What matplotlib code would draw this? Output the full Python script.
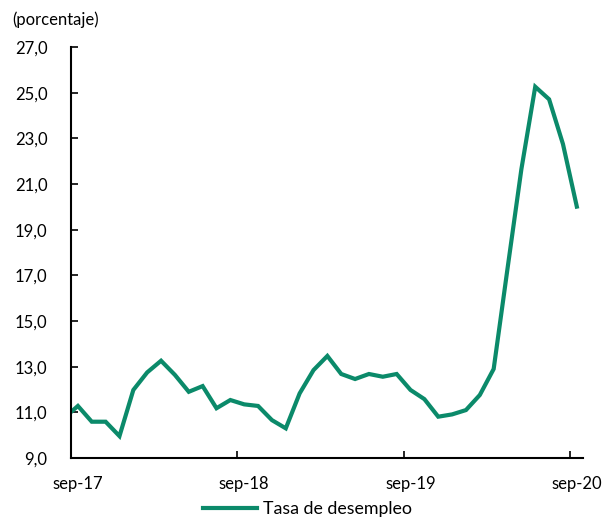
import matplotlib
matplotlib.use("Agg")
import matplotlib.pyplot as plt
from matplotlib.ticker import FixedLocator, FuncFormatter

# Monthly unemployment rate, aug-17 .. sep-20 (first month sits just left of the axis)
months = ["ago-17", "sep-17", "oct-17", "nov-17", "dic-17", "ene-18", "feb-18", "mar-18",
          "abr-18", "may-18", "jun-18", "jul-18", "ago-18", "sep-18", "oct-18", "nov-18",
          "dic-18", "ene-19", "feb-19", "mar-19", "abr-19", "may-19", "jun-19", "jul-19",
          "ago-19", "sep-19", "oct-19", "nov-19", "dic-19", "ene-20", "feb-20", "mar-20",
          "abr-20", "may-20", "jun-20", "jul-20", "ago-20", "sep-20"]
tasa = [10.75, 11.28, 10.59, 10.59, 9.96, 11.98, 12.75, 13.26,
        12.64, 11.90, 12.15, 11.18, 11.54, 11.35, 11.28, 10.66,
        10.30, 11.83, 12.85, 13.47, 12.68, 12.46, 12.68, 12.56,
        12.68, 11.98, 11.58, 10.81, 10.91, 11.10, 11.76, 12.90,
        17.30, 21.65, 25.26, 24.71, 22.75, 20.01]

tick_labels = ["sep-17", "sep-18", "sep-19", "sep-20"]
y_ticks = [9, 11, 13, 15, 17, 19, 21, 23, 25, 27]

FONT = "Lato"
GREEN = "#0B8A6A"

x = [i - 1 for i in range(len(tasa))]  # sep-17 at position 0

fig = plt.figure(figsize=(6.03, 5.19), dpi=100)
ax = fig.add_axes([0.1177, 0.1175, 0.849, 0.7919])

ax.plot(x, tasa, color=GREEN, lw=3.0, solid_joinstyle="miter",
        label="Tasa de desempleo", clip_on=True)

ax.set_xlim(-0.5, 36.44)
ax.set_ylim(9, 27)

# month boundaries carry the tick marks, labels sit at the month centres
label_pos = [months.index(m) - 1 for m in tick_labels]
ax.xaxis.set_major_locator(FixedLocator([p - 0.5 for p in label_pos]))
ax.xaxis.set_major_formatter(FuncFormatter(lambda v, p: ""))
ax.set_xticks(label_pos, minor=True)
ax.set_xticklabels(tick_labels, minor=True, fontfamily=FONT, fontsize=12)
ax.tick_params(axis="x", which="major", direction="in", length=5, width=1.2, color="black")
ax.tick_params(axis="x", which="minor", length=0, pad=13)

ax.yaxis.set_major_locator(FixedLocator(y_ticks))
ax.yaxis.set_major_formatter(FuncFormatter(lambda v, p: f"{v:.1f}".replace(".", ",")))
ax.tick_params(axis="y", direction="in", length=5, width=1.2, pad=17, labelsize=12)
for lab in ax.get_yticklabels():
    lab.set_fontfamily(FONT)

for side in ["top", "right"]:
    ax.spines[side].set_visible(False)
for side in ["left", "bottom"]:
    ax.spines[side].set_linewidth(1.5)
    ax.spines[side].set_color("black")

fig.text(0.02, 0.962, "(porcentaje)", fontfamily=FONT, fontsize=12, va="center", ha="left")

leg = fig.legend(loc="center", bbox_to_anchor=(0.51, 0.019), frameon=False,
                 prop={"family": FONT, "size": 12.8}, handlelength=3.0, handletextpad=0.35)

fig.savefig("out.png", dpi=100)
